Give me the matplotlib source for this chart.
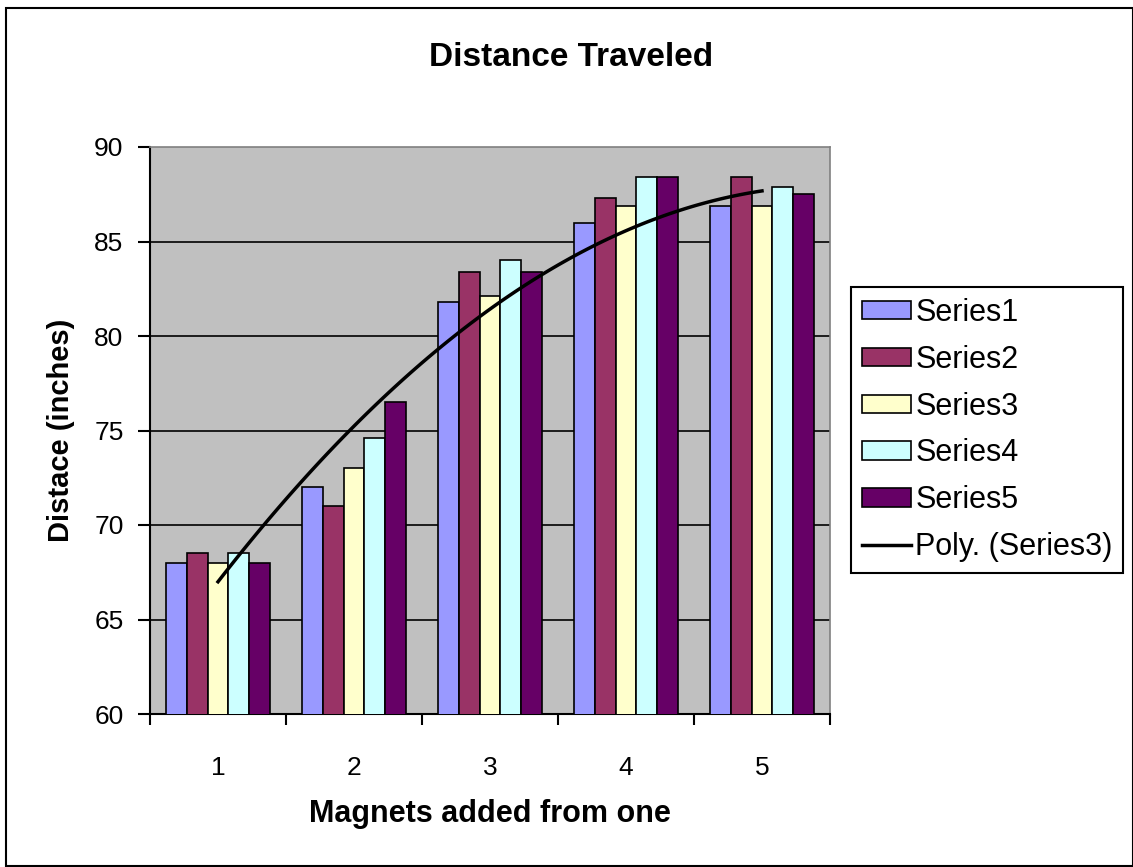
import numpy as np
import matplotlib
matplotlib.use('Agg')
import matplotlib.pyplot as plt
from matplotlib.patches import Rectangle

# Dados
magnets = [1, 2, 3, 4, 5]
series1 = [68.0, 72.0, 81.8, 86.0, 86.9]
series2 = [68.5, 71.0, 83.4, 87.3, 88.4]
series3 = [68.0, 73.0, 82.1, 86.9, 86.9]
series4 = [68.5, 74.6, 84.0, 88.4, 87.9]
series5 = [68.0, 76.5, 83.4, 88.4, 87.5]
series_names = ['Series1', 'Series2', 'Series3', 'Series4', 'Series5']
cores = ['#9999FF', '#993366', '#FFFFCC', '#CCFFFF', '#660066']

plt.rcParams['font.family'] = ['Liberation Sans', 'DejaVu Sans']

fig = plt.figure(figsize=(11.33, 8.67), dpi=100)
ax = fig.add_axes([150 / 1133, 1 - 714 / 867, 680 / 1133, 567 / 867])
ax.set_facecolor('#C0C0C0')

# Borda externa
fig.patches.append(Rectangle((6 / 1133, 1 / 867), 1 - 6 / 1133, 1 - 9 / 867,
                             transform=fig.transFigure, fill=False,
                             edgecolor='black', linewidth=1.5))

largura = 0.154
x = np.array(magnets)
todas = [series1, series2, series3, series4, series5]
handles = []
for i, (vals, nome, cor) in enumerate(zip(todas, series_names, cores)):
    b = ax.bar(x + (i - 2) * largura, vals, width=largura, bottom=0, color=cor,
               edgecolor='black', linewidth=1.2, label=nome, zorder=3)
    handles.append(b)

# Linha de tendência polinomial (ordem 2) da Series3
coef = np.polyfit(magnets, series3, 2)
xs = np.linspace(1, 5, 100)
linha, = ax.plot(xs, np.polyval(coef, xs), color='black', linewidth=2.5,
                 label='Poly. (Series3)', zorder=4)
handles.append(linha)

ax.set_xlim(0.5, 5.5)
ax.set_ylim(60, 90)
ax.set_yticks([60, 65, 70, 75, 80, 85, 90])
for yv in [65, 70, 75, 80, 85]:
    ax.axhline(yv, color='black', linewidth=1.2, zorder=1)

ax.set_xticks(magnets)
ax.set_xticklabels([str(m) for m in magnets])
ax.set_xticks([0.5, 1.5, 2.5, 3.5, 4.5, 5.5], minor=True)
ax.tick_params(axis='x', which='major', length=0, labelsize=19, pad=30)
ax.tick_params(axis='x', which='minor', length=8, width=1.5, direction='out')
ax.tick_params(axis='y', length=9, width=1.5, direction='out', labelsize=19, pad=10)

for lado in ['top', 'right']:
    ax.spines[lado].set_color('#808080')
    ax.spines[lado].set_linewidth(1.2)
for lado in ['left', 'bottom']:
    ax.spines[lado].set_color('black')
    ax.spines[lado].set_linewidth(1.5)

ax.set_xlabel('Magnets added from one', fontsize=22, fontweight='bold', labelpad=14)
ax.set_ylabel('Distace (inches)', fontsize=21, fontweight='bold', labelpad=14)
fig.text(571 / 1133, 1 - 57 / 867, 'Distance Traveled', fontsize=24,
         fontweight='bold', ha='center', va='center')

leg = ax.legend(handles=handles, loc='center left',
                bbox_to_anchor=(851 / 1133, 1 - 430 / 867),
                bbox_transform=fig.transFigure, fontsize=22, frameon=True,
                fancybox=False, framealpha=1, edgecolor='black',
                handlelength=1.6, handleheight=0.55, handletextpad=0.15,
                labelspacing=0.55, borderpad=0.35, borderaxespad=0)
leg.get_frame().set_linewidth(1.5)

plt.savefig('out.png', dpi=100)
